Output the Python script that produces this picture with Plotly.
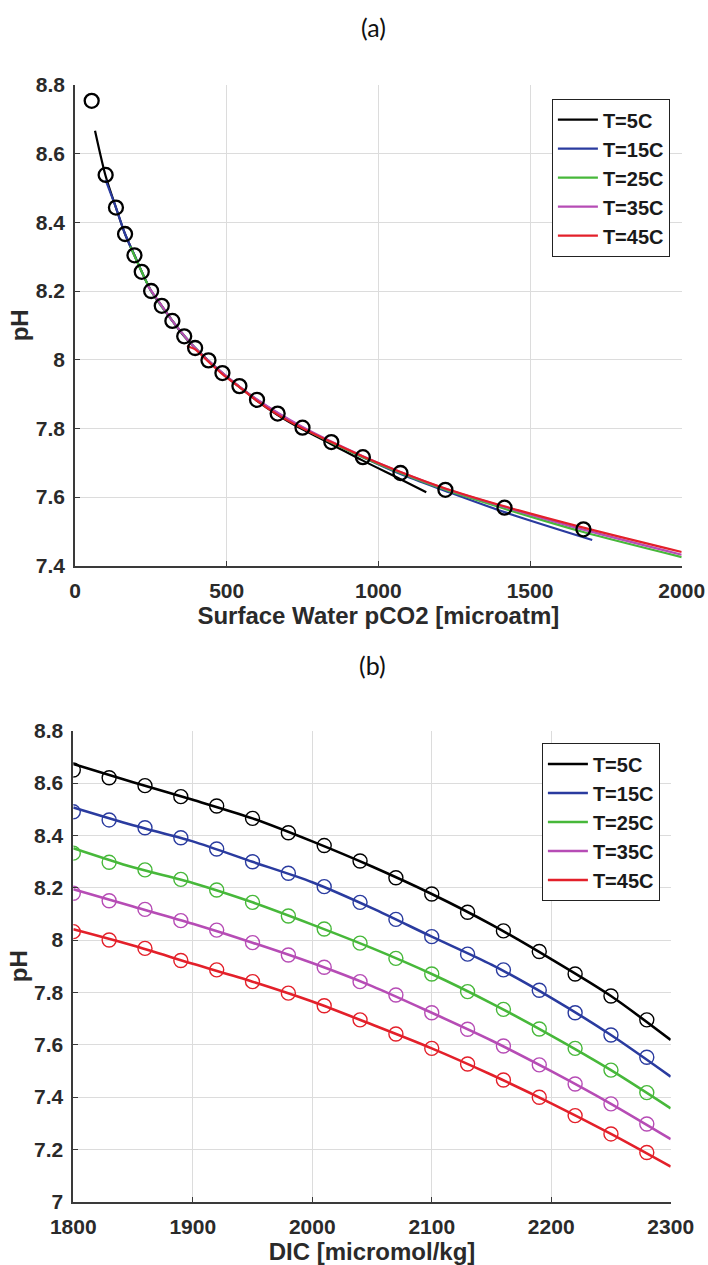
import plotly.graph_objects as go

# ---------------- Data: panel (a) pH vs surface water pCO2 ----------------
series_names = ["T=5C", "T=15C", "T=25C", "T=35C", "T=45C"]
series_colors = ["#000000", "#2a3b9f", "#47b83a", "#b64cb5", "#e3202a"]

pco2_t5 = [66, 101, 135, 165, 196, 220, 251, 286, 321, 360, 396, 440, 486, 542, 600, 668, 750, 845, 949, 1073, 1158]
ph_t5 = [8.667, 8.535, 8.443, 8.366, 8.304, 8.256, 8.200, 8.157, 8.113, 8.068, 8.034, 7.997, 7.960, 7.921, 7.880, 7.839, 7.797, 7.754, 7.706, 7.652, 7.614]

pco2_t15 = [101, 135, 165, 196, 251, 321, 396, 486, 600, 750, 949, 1073, 1221, 1416, 1705]
ph_t15 = [8.523, 8.443, 8.366, 8.304, 8.200, 8.113, 8.034, 7.961, 7.883, 7.802, 7.716, 7.667, 7.618, 7.556, 7.475]

pco2_t25 = [182, 220, 251, 321, 396, 486, 600, 750, 949, 1073, 1221, 1416, 1676, 2000]
ph_t25 = [8.330, 8.256, 8.200, 8.113, 8.034, 7.961, 7.883, 7.802, 7.716, 7.670, 7.621, 7.566, 7.498, 7.425]

pco2_t35 = [236, 286, 321, 396, 486, 600, 750, 949, 1073, 1221, 1416, 1676, 2000]
ph_t35 = [8.220, 8.157, 8.113, 8.034, 7.962, 7.884, 7.804, 7.719, 7.673, 7.624, 7.571, 7.505, 7.432]

pco2_t45 = [369, 396, 440, 486, 542, 600, 668, 750, 845, 949, 1073, 1221, 1416, 1676, 2000]
ph_t45 = [8.040, 8.030, 7.994, 7.958, 7.920, 7.880, 7.840, 7.800, 7.760, 7.718, 7.673, 7.625, 7.573, 7.511, 7.440]

pco2_obs = [55, 101, 135, 165, 196, 220, 251, 286, 321, 360, 396, 440, 486, 542, 600, 668, 750, 845, 949, 1073, 1221, 1416, 1676]
ph_obs = [8.754, 8.538, 8.443, 8.366, 8.304, 8.256, 8.200, 8.157, 8.113, 8.068, 8.034, 7.998, 7.961, 7.923, 7.883, 7.843, 7.802, 7.760, 7.716, 7.670, 7.621, 7.569, 7.506]

# ---------------- Data: panel (b) pH vs DIC ----------------
dic_line = [1800, 1850, 1900, 1950, 2000, 2050, 2100, 2150, 2200, 2250, 2300]
ph_line_t5 = [8.673, 8.603, 8.536, 8.465, 8.377, 8.281, 8.176, 8.059, 7.927, 7.786, 7.618]
ph_line_t15 = [8.507, 8.439, 8.377, 8.299, 8.221, 8.122, 8.013, 7.906, 7.779, 7.637, 7.478]
ph_line_t25 = [8.351, 8.278, 8.218, 8.144, 8.059, 7.969, 7.870, 7.758, 7.635, 7.503, 7.357]
ph_line_t35 = [8.194, 8.128, 8.062, 7.990, 7.912, 7.824, 7.722, 7.616, 7.499, 7.374, 7.239]
ph_line_t45 = [8.041, 7.979, 7.909, 7.841, 7.765, 7.677, 7.586, 7.485, 7.376, 7.259, 7.134]

dic_obs = [1800, 1830, 1860, 1890, 1920, 1950, 1980, 2010, 2040, 2070, 2100, 2130, 2160, 2190, 2220, 2250, 2280]
ph_obs_t5 = [8.650, 8.620, 8.590, 8.548, 8.512, 8.465, 8.410, 8.361, 8.302, 8.238, 8.176, 8.106, 8.035, 7.956, 7.870, 7.786, 7.695]
ph_obs_t15 = [8.490, 8.459, 8.429, 8.391, 8.348, 8.299, 8.255, 8.204, 8.144, 8.079, 8.013, 7.946, 7.886, 7.808, 7.722, 7.637, 7.552]
ph_obs_t25 = [8.332, 8.297, 8.268, 8.232, 8.191, 8.144, 8.092, 8.042, 7.988, 7.930, 7.870, 7.803, 7.735, 7.660, 7.586, 7.503, 7.417]
ph_obs_t35 = [8.179, 8.150, 8.117, 8.074, 8.038, 7.990, 7.943, 7.896, 7.841, 7.790, 7.722, 7.659, 7.595, 7.523, 7.450, 7.374, 7.297]
ph_obs_t45 = [8.032, 8.000, 7.968, 7.922, 7.886, 7.841, 7.797, 7.749, 7.695, 7.641, 7.586, 7.526, 7.465, 7.399, 7.329, 7.259, 7.188]

# tick labels
xa_ticks = [0, 500, 1000, 1500, 2000]
ya_ticks = [7.4, 7.6, 7.8, 8.0, 8.2, 8.4, 8.6, 8.8]
ya_labels = ["7.4", "7.6", "7.8", "8", "8.2", "8.4", "8.6", "8.8"]
xb_ticks = [1800, 1900, 2000, 2100, 2200, 2300]
yb_ticks = [7.0, 7.2, 7.4, 7.6, 7.8, 8.0, 8.2, 8.4, 8.6, 8.8]
yb_labels = ["7", "7.2", "7.4", "7.6", "7.8", "8", "8.2", "8.4", "8.6", "8.8"]

# ---------------- Figure ----------------
W, H = 708, 1265
fig = go.Figure()

top_x = [pco2_t5, pco2_t15, pco2_t25, pco2_t35, pco2_t45]
top_y = [ph_t5, ph_t15, ph_t25, ph_t35, ph_t45]
for name, col, xs, ys in zip(series_names, series_colors, top_x, top_y):
    fig.add_trace(go.Scatter(x=xs, y=ys, mode="lines", name=name,
                             line=dict(color=col, width=2.2, shape="spline", smoothing=0.8),
                             xaxis="x", yaxis="y", legend="legend"))
fig.add_trace(go.Scatter(x=pco2_obs, y=ph_obs, mode="markers", showlegend=False,
                         marker=dict(symbol="circle-open", size=14, color="#000000",
                                     line=dict(width=2.3, color="#000000")),
                         xaxis="x", yaxis="y"))

bot_lines = [ph_line_t5, ph_line_t15, ph_line_t25, ph_line_t35, ph_line_t45]
bot_obs = [ph_obs_t5, ph_obs_t15, ph_obs_t25, ph_obs_t35, ph_obs_t45]
for name, col, ys, os_ in zip(series_names, series_colors, bot_lines, bot_obs):
    fig.add_trace(go.Scatter(x=dic_obs, y=os_, mode="markers", showlegend=False,
                             marker=dict(symbol="circle-open", size=14, color=col,
                                         line=dict(width=1.4, color=col)),
                             xaxis="x2", yaxis="y2"))
    fig.add_trace(go.Scatter(x=dic_line, y=ys, mode="lines", name=name,
                             line=dict(color=col, width=2.6, shape="spline", smoothing=0.8),
                             xaxis="x2", yaxis="y2", legend="legend2"))

tickfont = dict(family="Liberation Sans, Arial", size=21, color="#2a2a2a", weight="bold")
titlefont = dict(family="Liberation Sans, Arial", size=24, color="#2a2a2a", weight="bold")
axis_common = dict(showline=True, linecolor="#3a3a3a", linewidth=1.6, mirror=False,
                   ticks="inside", ticklen=5, tickcolor="#3a3a3a", tickwidth=1.3,
                   showgrid=True, gridcolor="#dcdcdc", gridwidth=1, zeroline=False,
                   tickfont=tickfont, automargin=False)

def px_x(p):
    return p / W

def px_y(p):
    return 1 - p / H

legend_font = dict(family="Liberation Sans, Arial", size=20, color="#1a1a1a", weight="bold")

fig.update_layout(
    width=W, height=H,
    margin=dict(l=0, r=0, t=0, b=0),
    paper_bgcolor="white", plot_bgcolor="white",
    xaxis=dict(domain=[px_x(75), px_x(681.7)], range=[0, 2000], tickvals=xa_ticks,
               anchor="y", ticklabelstandoff=5,
               title=dict(text="Surface Water pCO2 [microatm]", font=titlefont, standoff=0),
               **axis_common),
    yaxis=dict(domain=[px_y(565.7), px_y(85)], range=[7.4, 8.8], tickvals=ya_ticks,
               ticktext=ya_labels, anchor="x", ticklabelstandoff=4,
               title=dict(text="pH", font=titlefont, standoff=0),
               **axis_common),
    xaxis2=dict(domain=[px_x(73.3), px_x(670.7)], range=[1800, 2300], tickvals=xb_ticks,
                anchor="y2", ticklabelstandoff=5,
                title=dict(text="DIC [micromol/kg]", font=titlefont, standoff=2),
                **axis_common),
    yaxis2=dict(domain=[px_y(1201.7), px_y(730.7)], range=[7.0, 8.8], tickvals=yb_ticks,
                ticktext=yb_labels, anchor="x2", ticklabelstandoff=4,
                title=dict(text="pH", font=titlefont, standoff=0),
                **axis_common),
    legend=dict(x=px_x(551.7), y=px_y(99), xanchor="left", yanchor="top",
                bgcolor="white", bordercolor="#222222", borderwidth=1.2,
                font=legend_font, itemwidth=40, tracegroupgap=0),
    legend2=dict(x=px_x(541.7), y=px_y(743.3), xanchor="left", yanchor="top",
                 bgcolor="white", bordercolor="#222222", borderwidth=1.2,
                 font=legend_font, itemwidth=40, tracegroupgap=0),
    showlegend=True,
    annotations=[
        dict(text="(a)", x=px_x(373), y=px_y(27), xref="paper", yref="paper",
             showarrow=False, xanchor="center", yanchor="middle",
             font=dict(family="Lato, Open Sans", size=25, color="#111111")),
        dict(text="(b)", x=px_x(372), y=px_y(665), xref="paper", yref="paper",
             showarrow=False, xanchor="center", yanchor="middle",
             font=dict(family="Lato, Open Sans", size=25, color="#111111")),
    ],
)

fig.write_html("out.html", config={"displayModeBar": False},
               post_script="document.body.style.margin='0';document.body.style.overflow='hidden';")
